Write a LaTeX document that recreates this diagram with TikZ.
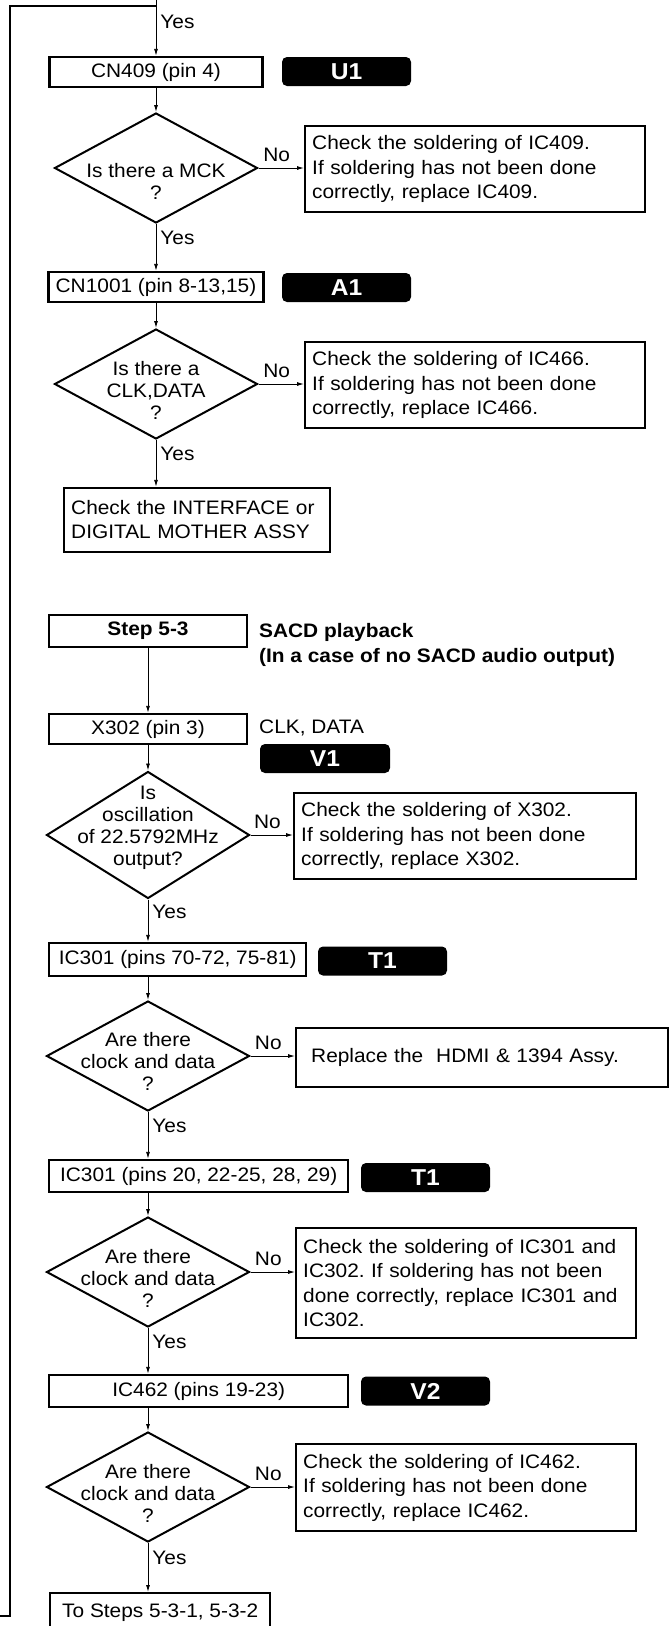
\documentclass[tikz,border=0pt]{standalone}
\usepackage{fontspec}
\setmainfont{Liberation Sans}[FakeStretch=1.07]
\usepackage{tikz}
\usetikzlibrary{shapes.geometric,arrows.meta}
\frenchspacing

\begin{document}
\begin{tikzpicture}[x=1pt,y=-1pt,
	every node/.style={font=\fontsize{19.5}{22}\selectfont},
	pinbox/.style={draw,line width=2.4pt,minimum height=30pt,inner sep=2pt},
	chkbox/.style={draw,line width=2.4pt,anchor=west,align=left,inner xsep=7pt,text width=326pt,font=\fontsize{19.5}{24.5}\selectfont},
	dia/.style={draw,diamond,line width=2pt,minimum width=203pt,minimum height=110pt,inner sep=0pt},
	dtext/.style={align=center,inner sep=0pt},
	badge/.style={fill=black,rounded corners=5pt,text=white,minimum width=129pt,minimum height=29pt,inner sep=0pt,font=\bfseries\fontsize{23}{24}\selectfont},
	arr/.style={-{Latex[length=7pt,width=4pt]},line width=0.9pt},
	lbl/.style={inner sep=4pt},
	nolbl/.style={above,pos=0.4,inner sep=4pt,yshift=2pt}]
			\clip (0,0) rectangle (670,1626);
			\coordinate (top) at (156,0);
			\coordinate (looptop) at (156,6);
			\coordinate (loopbot) at (10,1616);
			\coordinate (loopend) at (0,1616);

			\node[pinbox,minimum width=213pt] (cn409) at (156,72) {CN409 (pin 4)};
			\node[badge] (u1) at (346.5,71.5) {U1};
			\node[dia] (d1) at (156,168) {};
			\node[dtext] (d1t) at (156,181) {Is there a MCK\\?};
			\node[chkbox,minimum height=86pt] (c1) at (304,169) {Check the soldering of IC409.\\If soldering has not been done\\correctly, replace IC409.};

			\node[pinbox,minimum width=215pt] (cn1001) at (156,287) {CN1001 (pin 8-13,15)};
			\node[badge] (a1) at (346.5,287.5) {A1};
			\node[dia] (d2) at (156,384) {};
			\node[dtext] (d2t) at (156,390) {Is there a\\CLK,DATA\\?};
			\node[chkbox,minimum height=86pt] (c2) at (304,385) {Check the soldering of IC466.\\If soldering has not been done\\correctly, replace IC466.};
			\node[pinbox,anchor=west,align=left,inner xsep=7pt,text width=252pt,minimum height=64pt,font=\fontsize{19.5}{24}\selectfont] (iface) at (63,520) {Check the INTERFACE or\\DIGITAL MOTHER ASSY};

			\node[pinbox,minimum width=198pt,minimum height=32pt,font=\bfseries\fontsize{19.5}{22}\selectfont] (step53) at (148,631) {Step 5-3};
			\node[anchor=west,align=left,inner sep=0pt,font=\bfseries\fontsize{19.5}{25}\selectfont] (sacd) at (259,644.5) {SACD playback\\(In a case of no SACD audio output)};
			\node[pinbox,minimum width=198pt] (x302) at (148,729) {X302 (pin 3)};
			\node[anchor=west,inner sep=0pt] (clk) at (259,728) {CLK, DATA};
			\node[badge,minimum width=130pt] (v1) at (325,758.5) {V1};
			\node[dia,minimum height=127pt] (d3) at (148,835) {};
			\node[dtext] (d3t) at (148,828) {Is\\oscillation\\of 22.5792MHz\\output?};
			\node[chkbox,text width=328pt,minimum height=86pt] (c3) at (293,836) {Check the soldering of X302.\\If soldering has not been done\\correctly, replace X302.};

			\node[pinbox,anchor=west,minimum width=257pt,minimum height=33pt] (ic301a) at (48,959.5) {IC301 (pins 70-72, 75-81)};
			\node[badge] (t1a) at (382.5,961) {T1};
			\node[dia] (d4) at (148,1056) {};
			\node[dtext] (d4t) at (148,1061) {Are there\\clock and data\\?};
			\node[chkbox,inner xsep=15pt,text width=342pt,minimum height=59pt] (c4) at (295,1057.5) {Replace the\ \ HDMI \& 1394 Assy.};

			\node[pinbox,anchor=west,minimum width=299pt,minimum height=32pt] (ic301b) at (48,1176) {IC301 (pins 20, 22-25, 28, 29)};
			\node[badge] (t1b) at (425.5,1177.5) {T1};
			\node[dia] (d5) at (148,1272) {};
			\node[dtext] (d5t) at (148,1278) {Are there\\clock and data\\?};
			\node[chkbox,minimum height=110pt] (c5) at (295,1283) {Check the soldering of IC301 and\\IC302. If soldering has not been\\done correctly, replace IC301 and\\IC302.};

			\node[pinbox,anchor=west,minimum width=299pt,minimum height=32pt] (ic462) at (48,1391) {IC462 (pins 19-23)};
			\node[badge] (v2) at (425.5,1391) {V2};
			\node[dia] (d6) at (148,1487) {};
			\node[dtext] (d6t) at (148,1493) {Are there\\clock and data\\?};
			\node[chkbox,minimum height=87pt] (c6) at (295,1487.5) {Check the soldering of IC462.\\If soldering has not been done\\correctly, replace IC462.};
			\node[pinbox,anchor=north west,minimum width=220pt,minimum height=38pt] (tosteps) at (49,1592) {To Steps 5-3-1, 5-3-2};

			\draw[arr] (top) -- node[right,pos=0.4,lbl] (y0) {Yes} (top |- cn409.north);
			\draw[line width=1.2pt] (looptop) -| (loopbot) -- (loopend);
			\draw[arr] (cn409) -- (d1);
			\draw[arr] (d1.east) -- node[nolbl] (n1) {No} (d1.east -| c1.west);
			\draw[arr] (d1.south) -- node[right,pos=0.3,lbl] (y1) {Yes} (cn1001.north);
			\draw[arr] (cn1001) -- (d2);
			\draw[arr] (d2.east) -- node[nolbl] (n2) {No} (d2.east -| c2.west);
			\draw[arr] (d2.south) -- node[right,pos=0.3,lbl] (y2) {Yes} (d2.south |- iface.north);
			\draw[arr] (step53) -- (x302);
			\draw[arr] (x302) -- (d3);
			\draw[arr] (d3.east) -- node[nolbl] (n3) {No} (d3.east -| c3.west);
			\draw[arr] (d3.south) -- node[right,pos=0.3,lbl] (y3) {Yes} (d3.south |- ic301a.north);
			\draw[arr] (ic301a.south -| d4.north) -- (d4.north);
			\draw[arr] (d4.east) -- node[nolbl] (n4) {No} (d4.east -| c4.west);
			\draw[arr] (d4.south) -- node[right,pos=0.3,lbl] (y4) {Yes} (d4.south |- ic301b.north);
			\draw[arr] (ic301b.south -| d5.north) -- (d5.north);
			\draw[arr] (d5.east) -- node[nolbl] (n5) {No} (d5.east -| c5.west);
			\draw[arr] (d5.south) -- node[right,pos=0.3,lbl] (y5) {Yes} (d5.south |- ic462.north);
			\draw[arr] (ic462.south -| d6.north) -- (d6.north);
			\draw[arr] (d6.east) -- node[nolbl] (n6) {No} (d6.east -| c6.west);
			\draw[arr] (d6.south) -- node[right,pos=0.3,lbl] (y6) {Yes} (d6.south |- tosteps.north);
		\end{tikzpicture}
\end{document}
